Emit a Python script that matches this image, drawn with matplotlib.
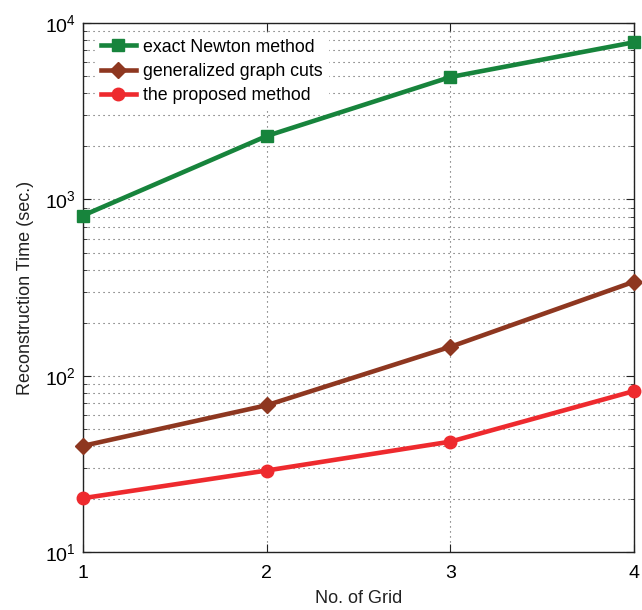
import numpy as np
import matplotlib
matplotlib.use('Agg')
import matplotlib.pyplot as plt

grid_no = [1, 2, 3, 4]
newton = [810, 2290, 4950, 7800]
graph_cuts = [40, 68, 146, 342]
proposed = [20.2, 29, 42.3, 82]

plt.rcParams['font.family'] = ['Liberation Sans', 'DejaVu Sans']
plt.rcParams['xtick.direction'] = 'in'
plt.rcParams['ytick.direction'] = 'in'

fig = plt.figure(figsize=(6.42, 6.10), dpi=100)
ax = fig.add_axes([0.129, 0.095, 0.859, 0.867])

ax.plot(grid_no, newton, color='#17843c', marker='s', markersize=9, linewidth=3.3,
        label='exact Newton method', clip_on=False, zorder=3)
ax.plot(grid_no, graph_cuts, color='#8e3720', marker='D', markersize=8.5, linewidth=3.3,
        label='generalized graph cuts', clip_on=False, zorder=3)
ax.plot(grid_no, proposed, color='#ee2a2e', marker='o', markersize=9, linewidth=3.3,
        label='the proposed method', clip_on=False, zorder=3)

ax.set_yscale('log')
ax.set_xlim(1, 4)
ax.set_ylim(10, 1e4)
ax.set_xticks([1, 2, 3, 4])
dots = (0, (1, 3.5))
ax.grid(True, which='major', linestyle=dots, color='#555555', linewidth=0.8)
ax.grid(True, which='minor', axis='y', linestyle=dots, color='#555555', linewidth=0.8)
ax.tick_params(which='both', top=True, right=True, labelsize=14, color='#222222')
ax.tick_params(which='major', length=6)
ax.tick_params(which='minor', length=3)
ax.tick_params(axis='x', pad=9)
ax.tick_params(axis='y', pad=5)
for s in ax.spines.values():
    s.set_linewidth(1.0)
    s.set_color('#222222')

ax.set_xlabel('No. of Grid', fontsize=13, color='#222222', labelpad=6)
ax.set_ylabel('Reconstruction Time (sec.)', fontsize=13, color='#222222', labelpad=8)

leg = ax.legend(loc='upper left', bbox_to_anchor=(0.008, 0.996), fontsize=12.8,
                frameon=True, fancybox=False, edgecolor='white', framealpha=1,
                handlelength=2.0, handletextpad=0.4,
                borderaxespad=0.45, labelspacing=0.4, borderpad=0.3)

fig.savefig('out.png', dpi=100)
